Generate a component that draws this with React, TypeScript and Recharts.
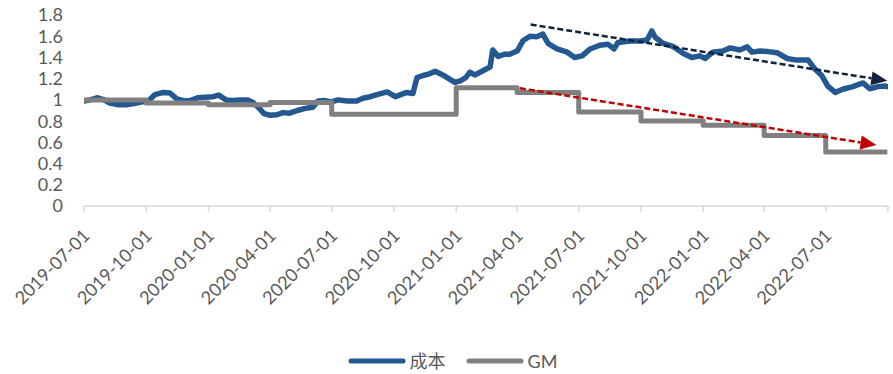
import React from 'react'
import { LineChart, Line, XAxis, YAxis, Legend, ReferenceLine } from 'recharts'

// 成本 (daily, sampled)
const costDates = [
  '2019-07-01', '2019-07-10', '2019-07-20', '2019-07-31', '2019-08-08', '2019-08-20', '2019-09-01', '2019-09-13',
  '2019-09-23', '2019-10-04', '2019-10-14', '2019-10-26', '2019-11-05', '2019-11-15', '2019-11-26', '2019-12-06',
  '2019-12-16', '2019-12-27', '2020-01-08', '2020-01-16', '2020-01-27', '2020-02-06', '2020-02-16', '2020-02-27',
  '2020-03-07', '2020-03-16', '2020-03-23', '2020-04-01', '2020-04-11', '2020-04-20', '2020-04-30', '2020-05-11',
  '2020-05-23', '2020-06-03', '2020-06-11', '2020-06-20', '2020-06-30', '2020-07-10', '2020-07-24', '2020-08-07',
  '2020-08-16', '2020-08-27', '2020-09-06', '2020-09-21', '2020-10-03', '2020-10-11', '2020-10-20', '2020-10-29',
  '2020-11-04', '2020-11-13', '2020-11-22', '2020-12-01', '2020-12-12', '2020-12-21', '2020-12-30', '2021-01-07',
  '2021-01-15', '2021-01-21', '2021-01-29', '2021-02-08', '2021-02-17', '2021-02-20', '2021-02-24', '2021-03-04',
  '2021-03-13', '2021-03-21', '2021-04-01', '2021-04-10', '2021-04-20', '2021-04-30', '2021-05-09', '2021-05-17',
  '2021-05-30', '2021-06-14', '2021-06-25', '2021-07-06', '2021-07-18', '2021-08-01', '2021-08-13', '2021-08-22',
  '2021-08-28', '2021-09-15', '2021-09-30', '2021-10-10', '2021-10-17', '2021-10-22', '2021-11-02', '2021-11-17',
  '2021-12-02', '2021-12-15', '2021-12-27', '2022-01-04', '2022-01-15', '2022-01-30', '2022-02-10', '2022-02-24',
  '2022-03-07', '2022-03-14', '2022-03-26', '2022-04-07', '2022-04-20', '2022-05-05', '2022-05-19', '2022-06-05',
  '2022-06-15', '2022-06-25', '2022-07-04', '2022-07-15', '2022-07-26', '2022-08-10', '2022-08-25', '2022-09-04',
  '2022-09-16', '2022-09-27', '2022-09-30',
]
const costValues = [
  0.99, 1.0, 1.02, 1.0, 0.97, 0.955, 0.955, 0.965,
  0.98, 0.99, 1.05, 1.07, 1.065, 1.01, 0.99, 0.995,
  1.02, 1.025, 1.03, 1.045, 1.0, 0.995, 1.0, 1.0,
  0.975, 0.92, 0.87, 0.855, 0.86, 0.88, 0.875, 0.9,
  0.92, 0.93, 0.99, 0.995, 0.98, 1.0, 0.99, 0.99,
  1.015, 1.03, 1.05, 1.075, 1.03, 1.05, 1.07, 1.06,
  1.21, 1.23, 1.245, 1.27, 1.235, 1.2, 1.165, 1.18,
  1.21, 1.26, 1.235, 1.27, 1.3, 1.31, 1.47, 1.41,
  1.43, 1.43, 1.46, 1.56, 1.6, 1.595, 1.62, 1.53,
  1.48, 1.45, 1.4, 1.415, 1.48, 1.515, 1.525, 1.48,
  1.54, 1.555, 1.555, 1.565, 1.65, 1.59, 1.535, 1.505,
  1.44, 1.4, 1.415, 1.39, 1.45, 1.46, 1.49, 1.47,
  1.5, 1.45, 1.46, 1.455, 1.445, 1.39, 1.375, 1.375,
  1.29, 1.23, 1.13, 1.07, 1.1, 1.125, 1.16, 1.105,
  1.125, 1.13, 1.125,
]

// GM (quarterly steps)
const gmDates = [
  '2019-07-01', '2019-10-01', '2020-01-01', '2020-04-01', '2020-07-01', '2021-01-01', '2021-04-01',
  '2021-07-01', '2021-10-01', '2022-01-01', '2022-04-01', '2022-07-01', '2022-09-30',
]
const gmValues = [1.0, 0.97, 0.955, 0.975, 0.865, 1.115, 1.07, 0.885, 0.8, 0.76, 0.665, 0.51, 0.51]

// trend arrows
const costTrendDates = ['2021-04-21', '2022-09-30']
const costTrendValues = [1.71, 1.18]
const gmTrendDates = ['2021-04-05', '2022-09-14']
const gmTrendValues = [1.11, 0.575]

const quarterTicks = [
  '2019-07-01', '2019-10-01', '2020-01-01', '2020-04-01', '2020-07-01', '2020-10-01', '2021-01-01',
  '2021-04-01', '2021-07-01', '2021-10-01', '2022-01-01', '2022-04-01', '2022-07-01', '2022-10-01',
]
const yTicks = [0, 0.2, 0.4, 0.6, 0.8, 1, 1.2, 1.4, 1.6, 1.8]
const legendOrder = ['成本', 'GM']

const FONT = "Lato, 'Noto Sans CJK SC', sans-serif"
const TEXT = '#595959'

const ts = (d: string) => Date.parse(d + 'T00:00:00Z')
const label = (t: number) => new Date(t).toISOString().slice(0, 10)

const costData = costDates.map((d, i) => ({ t: ts(d), v: costValues[i] }))
const gmData = gmDates.map((d, i) => ({ t: ts(d), v: gmValues[i] }))
const lastTick = ts(quarterTicks[quarterTicks.length - 1])

const DateTick = (props: any) => {
  const { x, y, payload } = props
  if (payload.value === lastTick) return null
  const tx = x + 2
  const ty = y + 18
  return (
    <text
      x={tx}
      y={ty}
      transform={`rotate(-45, ${tx}, ${ty})`}
      textAnchor="end"
      dominantBaseline="central"
      fill={TEXT}
      fontSize={18}
      fontFamily={FONT}
    >
      {label(payload.value)}
    </text>
  )
}

// dashed line with a filled arrow head at the far end
const arrow = (color: string) => (props: any) => {
  const { x1, y1, x2, y2 } = props
  const len = Math.hypot(x2 - x1, y2 - y1)
  const ux = (x2 - x1) / len
  const uy = (y2 - y1) / len
  const head = 16
  const half = 7
  const bx = x2 - ux * head
  const by = y2 - uy * head
  return (
    <g>
      <line x1={x1} y1={y1} x2={bx} y2={by} stroke={color} strokeWidth={2.5} strokeDasharray="6 3" />
      <polygon
        points={`${x2},${y2} ${bx - uy * half},${by + ux * half} ${bx + uy * half},${by - ux * half}`}
        fill={color}
      />
    </g>
  )
}

const renderLegend = (props: any) => {
  const items = [...props.payload].sort(
    (a: any, b: any) => legendOrder.indexOf(a.value) - legendOrder.indexOf(b.value),
  )
  return (
    <div style={{ display: 'flex', justifyContent: 'center', alignItems: 'center', paddingLeft: 12 }}>
      {items.map((item: any, i: number) => (
        <div key={item.value} style={{ display: 'flex', alignItems: 'center', marginLeft: i ? 20 : 0 }}>
          <svg width={58} height={8}>
            <line x1={3} y1={4} x2={55} y2={4} stroke={item.color} strokeWidth={5} strokeLinecap="round" />
          </svg>
          <span style={{ fontSize: 18, color: TEXT, marginLeft: 4, fontFamily: FONT, lineHeight: '24px' }}>
            {item.value}
          </span>
        </div>
      ))}
    </div>
  )
}

export default function App() {
  return (
    <div style={{ position: 'absolute', left: 0, top: 0, background: '#fff' }}>
      <LineChart width={893} height={374} margin={{ top: 15, right: 5, left: 0, bottom: 0 }}>
        <XAxis
          dataKey="t"
          type="number"
          domain={[ts(quarterTicks[0]), lastTick]}
          ticks={quarterTicks.map(ts)}
          interval={0}
          height={168}
          stroke="#D9D9D9"
          strokeWidth={1.5}
          tickSize={6}
          tick={<DateTick />}
          allowDataOverflow
        />
        <YAxis
          type="number"
          domain={[0, 1.8]}
          ticks={yTicks}
          interval={0}
          width={84}
          axisLine={false}
          tickLine={false}
          tickMargin={15}
          tick={{ fill: TEXT, fontSize: 18, fontFamily: FONT }}
        />
        <Legend
          verticalAlign="middle"
          content={renderLegend}
          wrapperStyle={{ top: 349, left: 0, width: 893 }}
        />
        <Line
          data={costData}
          dataKey="v"
          name="成本"
          type="linear"
          stroke="#235891"
          strokeWidth={5.5}
          strokeLinejoin="round"
          strokeLinecap="round"
          dot={false}
          isAnimationActive={false}
        />
        <Line
          data={gmData}
          dataKey="v"
          name="GM"
          type="stepAfter"
          stroke="#808080"
          strokeWidth={5}
          strokeLinejoin="round"
          dot={false}
          isAnimationActive={false}
        />
        <ReferenceLine
          segment={[
            { x: ts(costTrendDates[0]), y: costTrendValues[0] },
            { x: ts(costTrendDates[1]), y: costTrendValues[1] },
          ]}
          ifOverflow="visible"
          shape={arrow('#11233F')}
        />
        <ReferenceLine
          segment={[
            { x: ts(gmTrendDates[0]), y: gmTrendValues[0] },
            { x: ts(gmTrendDates[1]), y: gmTrendValues[1] },
          ]}
          ifOverflow="visible"
          shape={arrow('#C00000')}
        />
      </LineChart>
    </div>
  )
}
